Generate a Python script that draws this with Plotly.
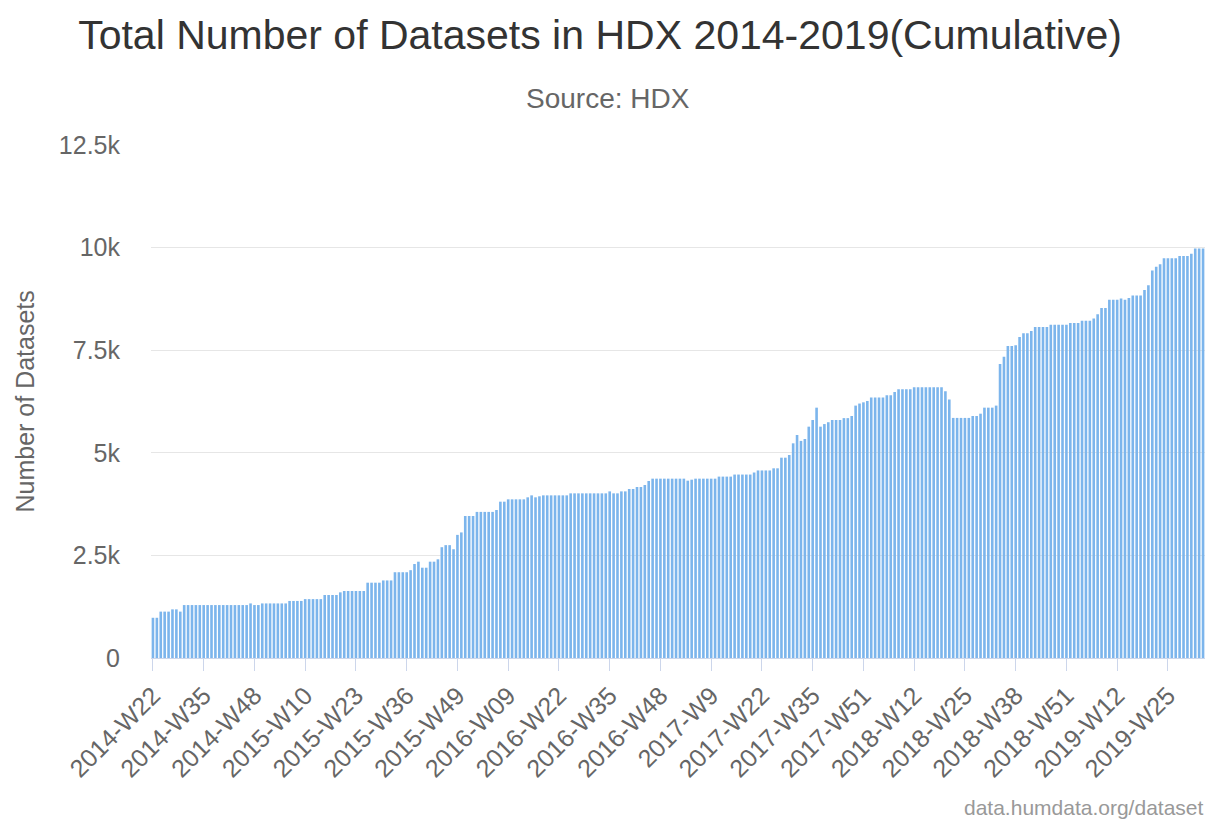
import plotly.graph_objects as go

title_text = "Total Number of Datasets in HDX 2014-2019(Cumulative)"
subtitle_text = "Source: HDX"
y_title = "Number of Datasets"
credit_text = "data.humdata.org/dataset"

# x tick labels (every 13th week)
tick_labels = [
    "2014-W22", "2014-W35", "2014-W48", "2015-W10", "2015-W23", "2015-W36",
    "2015-W49", "2016-W09", "2016-W22", "2016-W35", "2016-W48", "2017-W9",
    "2017-W22", "2017-W35", "2017-W51", "2018-W12", "2018-W25", "2018-W38",
    "2018-W51", "2019-W12", "2019-W25",
]

y_tick_values = [0, 2500, 5000, 7500, 10000, 12500]
y_tick_labels = ["0", "2.5k", "5k", "7.5k", "10k", "12.5k"]

# cumulative number of datasets, one value per week
values = [
    980, 980, 1130, 1130, 1130, 1185, 1185, 1130, 1290, 1290,
    1290, 1290, 1290, 1290, 1290, 1290, 1290, 1290, 1290, 1290,
    1290, 1290, 1290, 1290, 1290, 1330, 1290, 1290, 1330, 1330,
    1330, 1330, 1330, 1330, 1330, 1390, 1390, 1390, 1390, 1435,
    1435, 1435, 1435, 1435, 1535, 1535, 1535, 1535, 1600, 1632,
    1632, 1632, 1632, 1632, 1632, 1835, 1835, 1835, 1835, 1890,
    1890, 1890, 2090, 2090, 2090, 2090, 2140, 2290, 2347, 2200,
    2200, 2347, 2347, 2405, 2700, 2750, 2750, 2650, 3000, 3060,
    3460, 3460, 3460, 3560, 3560, 3560, 3560, 3560, 3606, 3809,
    3809, 3866, 3866, 3866, 3866, 3866, 3915, 3963, 3915, 3940,
    3963, 3963, 3963, 3963, 3963, 3963, 3963, 4012, 4012, 4012,
    4012, 4012, 4012, 4012, 4012, 4012, 4012, 4060, 4012, 4012,
    4060, 4060, 4118, 4118, 4167, 4167, 4215, 4313, 4370, 4370,
    4370, 4370, 4370, 4370, 4370, 4370, 4370, 4321, 4345, 4370,
    4370, 4370, 4370, 4370, 4370, 4420, 4420, 4420, 4420, 4470,
    4470, 4470, 4470, 4470, 4520, 4570, 4570, 4570, 4570, 4622,
    4622, 4881, 4881, 4946, 5231, 5434, 5290, 5336, 5637, 5799,
    6100, 5637, 5700, 5745, 5799, 5799, 5799, 5845, 5845, 5897,
    6150, 6200, 6230, 6262, 6350, 6350, 6350, 6350, 6400, 6400,
    6480, 6550, 6550, 6550, 6550, 6600, 6600, 6600, 6600, 6600,
    6600, 6600, 6600, 6500, 6300, 5850, 5850, 5850, 5850, 5850,
    5897, 5897, 5953, 6100, 6100, 6100, 6150, 7164, 7343, 7602,
    7602, 7620, 7820, 7911, 7911, 7970, 8065, 8065, 8065, 8065,
    8120, 8120, 8120, 8120, 8120, 8165, 8165, 8165, 8220, 8220,
    8220, 8270, 8378, 8530, 8530, 8730, 8730, 8730, 8760, 8730,
    8770, 8835, 8835, 8835, 8967, 9085, 9445, 9535, 9595, 9739,
    9739, 9739, 9739, 9795, 9795, 9795, 9850, 9980, 9980, 9980,
]

n = len(values)
x_idx = list(range(n))
tick_step = 13
tick_pos = [i * tick_step for i in range(len(tick_labels))]

FONT = "Liberation Sans"

# page has an 8px body margin: figure occupies 8..1213 x 8..820
W, H = 1205, 812
L, R, T, B = 143, 8, 137, 162
plot_w = W - L - R
plot_h = H - T - B


def px_to_paper_x(page_x):
    return (page_x - 8 - L) / plot_w


def px_to_paper_y(page_y):
    return (H - B - (page_y - 8)) / plot_h


fig = go.Figure(
    go.Bar(
        x=x_idx,
        y=values,
        marker=dict(color="#7cb5ec", line=dict(width=0)),
        hovertemplate="%{y}<extra></extra>",
    )
)

fig.update_layout(
    width=W,
    height=H,
    margin=dict(l=L, r=R, t=T, b=B, pad=0),
    paper_bgcolor="white",
    plot_bgcolor="white",
    bargap=0.33,
    showlegend=False,
    font=dict(family=FONT, color="#666666"),
    title=dict(
        text=title_text,
        x=(600 - 8) / W,
        xref="container",
        xanchor="center",
        y=1 - (35 - 8) / H,
        yref="container",
        yanchor="middle",
        font=dict(family=FONT, size=41, color="#333333"),
    ),
    xaxis=dict(
        range=[-0.5, n - 0.5],
        tickmode="array",
        tickvals=tick_pos,
        ticktext=tick_labels,
        tickangle=-45,
        ticks="outside",
        ticklen=12,
        tickcolor="#ccd6eb",
        tickwidth=1,
        showline=True,
        linecolor="#ccd6eb",
        linewidth=1,
        showgrid=False,
        zeroline=False,
        tickfont=dict(family=FONT, size=25, color="#666666"),
    ),
    yaxis=dict(
        range=[0, 12500],
        tickmode="array",
        tickvals=y_tick_values,
        ticktext=y_tick_labels,
        showgrid=True,
        gridcolor="#e6e6e6",
        gridwidth=1,
        zeroline=False,
        showline=False,
        ticks="",
        ticklabelstandoff=30,
        tickfont=dict(family=FONT, size=25, color="#666666"),
    ),
    annotations=[
        dict(
            text=subtitle_text,
            xref="paper", yref="paper",
            x=px_to_paper_x(608), y=px_to_paper_y(98),
            xanchor="center", yanchor="middle",
            showarrow=False,
            font=dict(family=FONT, size=28, color="#666666"),
        ),
        dict(
            text=y_title,
            xref="paper", yref="paper",
            x=px_to_paper_x(24), y=0.5,
            xanchor="center", yanchor="middle",
            textangle=-90,
            showarrow=False,
            font=dict(family=FONT, size=25, color="#666666"),
        ),
        dict(
            text=credit_text,
            xref="paper", yref="paper",
            x=px_to_paper_x(1206), y=px_to_paper_y(808),
            xanchor="right", yanchor="middle",
            showarrow=False,
            font=dict(family=FONT, size=21, color="#999999"),
        ),
    ],
)

fig.write_html("out.html")
